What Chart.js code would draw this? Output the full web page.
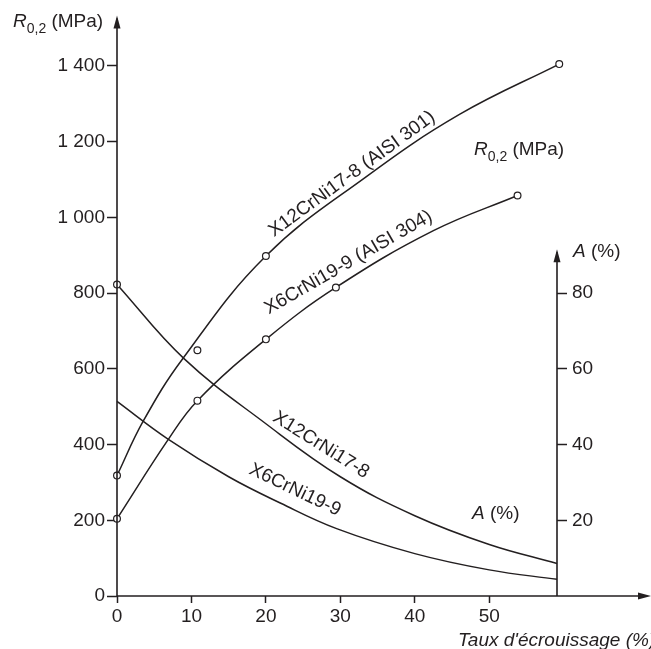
<!DOCTYPE html>
<html>
<head>
<meta charset="utf-8">
<script src="https://cdn.jsdelivr.net/npm/chart.js@4.4.1/dist/chart.umd.min.js"></script>
<style>
  html, body { margin: 0; padding: 0; background: #fff; }
</style>
</head>
<body>
<canvas id="myChart" width="651" height="649"></canvas>
<script>
// tick values and labels
const xTicks = [0, 10, 20, 30, 40, 50];
const xTickLabels = ["0", "10", "20", "30", "40", "50"];
const rTicks = [0, 200, 400, 600, 800, 1000, 1200, 1400];
const rTickLabels = ["0", "200", "400", "600", "800", "1 000", "1 200", "1 400"];
const aTicks = [20, 40, 60, 80];
const aTickLabels = ["20", "40", "60", "80"];

// measured points (circles)
const r301X = [0, 10.8, 20, 59.4];
const r301Y = [318, 649, 898, 1405];
const r304X = [0, 10.8, 20, 29.4, 53.8];
const r304Y = [204, 516, 678, 815, 1058];
const a301X = [0];
const a301Y = [82.3];

// curves
const r301CurveX = [0, 3.5, 8.8, 20, 33.5, 46, 59.4];
const r301CurveY = [318, 461, 626, 898, 1108, 1272, 1405];
const r304CurveX = [0, 6.8, 10.8, 20, 29.4, 42.5, 53.8];
const r304CurveY = [204, 411, 516, 678, 815, 965, 1058];
const a301CurveX = [0, 9, 20, 30, 40, 50, 59.1];
const a301CurveY = [82.3, 62.7, 45.5, 31.5, 21.2, 13.6, 8.6];
const a304CurveX = [0, 6.8, 15, 22, 29.5, 40, 50, 59.1];
const a304CurveY = [51.4, 41.5, 31.5, 24.5, 17.8, 11.2, 6.9, 4.4];

const ink = "#231f20";
const fontFamily = "'Liberation Sans', Arial, sans-serif";

const zip = (xs, ys) => xs.map((x, i) => ({ x: x, y: ys[i] }));

const markerSet = (xs, ys, axis) => ({
  data: zip(xs, ys),
  yAxisID: axis,
  showLine: false,
  pointRadius: 3.4,
  pointBorderWidth: 1.2,
  pointBorderColor: ink,
  pointBackgroundColor: "#fff",
  clip: false,
});

const curveSet = (xs, ys, axis) => ({
  data: zip(xs, ys),
  yAxisID: axis,
  showLine: true,
  borderColor: ink,
  borderWidth: 1.5,
  pointRadius: 0,
  tension: 0.4,
  clip: false,
});

// axis lines with arrows + annotations
const decorations = {
  id: "decorations",
  afterDraw(chart) {
    const { ctx, chartArea, scales } = chart;
    const left = scales.x.getPixelForValue(0);
    const right = scales.x.getPixelForValue(59.1);
    const bottom = scales.y.getPixelForValue(0);
    const aTop = scales.y1.getPixelForValue(91.3);
    ctx.save();
    ctx.strokeStyle = ink;
    ctx.fillStyle = ink;
    ctx.lineWidth = 1.6;

    const arrowUp = (x, y) => {
      ctx.beginPath();
      ctx.moveTo(x, y);
      ctx.lineTo(x - 3.5, y + 13);
      ctx.lineTo(x + 3.5, y + 13);
      ctx.closePath();
      ctx.fill();
    };

    ctx.beginPath();
    ctx.moveTo(left, bottom);
    ctx.lineTo(left, chartArea.top + 2);
    ctx.moveTo(right, bottom);
    ctx.lineTo(right, aTop + 2);
    ctx.moveTo(left, bottom);
    ctx.lineTo(chart.width - 4, bottom);
    ctx.stroke();
    arrowUp(left, chartArea.top - 1);
    arrowUp(right, aTop - 1);
    ctx.beginPath();
    ctx.moveTo(chart.width, bottom);
    ctx.lineTo(chart.width - 13, bottom - 3.5);
    ctx.lineTo(chart.width - 13, bottom + 3.5);
    ctx.closePath();
    ctx.fill();

    const font = (size, italic) => (italic ? "italic " : "") + size + "px " + fontFamily;
    const rich = (parts, x, y) => {
      ctx.textAlign = "left";
      ctx.textBaseline = "alphabetic";
      parts.forEach((p) => {
        ctx.font = font(p.size || 19, p.italic);
        ctx.fillText(p.t, x, y + (p.dy || 0));
        x += ctx.measureText(p.t).width;
      });
    };
    const rLabel = [{ t: "R", italic: true }, { t: "0,2", size: 14, dy: 6 }, { t: " (MPa)" }];
    const aLabel = [{ t: "A", italic: true }, { t: " (%)" }];
    rich(rLabel, 13, 26.5);
    rich(rLabel, 474, 155);
    rich(aLabel, 472, 518.5);
    rich(aLabel, 573, 257);
    rich([{ t: "Taux d'écrouissage (%)", italic: true }], 458, 646);

    const rotated = (text, x, y, deg) => {
      ctx.save();
      ctx.translate(x, y);
      ctx.rotate((deg * Math.PI) / 180);
      ctx.font = font(19, false);
      ctx.textAlign = "center";
      ctx.textBaseline = "middle";
      ctx.fillText(text, 0, 0);
      ctx.restore();
    };
    rotated("X12CrNi17-8 (AISI 301)", 352, 174, -36);
    rotated("X6CrNi19-9 (AISI 304)", 348.5, 262.5, -30);
    rotated("X12CrNi17-8", 321, 445, 32);
    rotated("X6CrNi19-9", 295, 490, 25.6);
    ctx.restore();
  },
};

const tickGrid = (len) => ({
  drawOnChartArea: false,
  drawTicks: true,
  tickLength: len,
  tickWidth: 1.5,
  color: ink,
});

const config = {
  type: "scatter",
  data: {
    datasets: [
      markerSet(r301X, r301Y, "y"),
      markerSet(r304X, r304Y, "y"),
      markerSet(a301X, a301Y, "y1"),
      curveSet(r301CurveX, r301CurveY, "y"),
      curveSet(r304CurveX, r304CurveY, "y"),
      curveSet(a301CurveX, a301CurveY, "y1"),
      curveSet(a304CurveX, a304CurveY, "y1"),
    ],
  },
  options: {
    responsive: false,
    animation: false,
    layout: { padding: { top: 12, left: 0, right: 0, bottom: 0 } },
    plugins: {
      legend: { display: false },
      tooltip: { enabled: false },
    },
    scales: {
      x: {
        type: "linear",
        min: 0,
        max: 59.1,
        afterBuildTicks: (s) => { s.ticks = xTicks.map((v) => ({ value: v })); },
        afterFit: (s) => { s.height = 53; },
        ticks: {
          callback: (v, i) => xTickLabels[i],
          color: ink,
          font: { family: fontFamily, size: 19 },
          padding: 2,
          maxRotation: 0,
          autoSkip: false,
        },
        grid: tickGrid(7),
        border: { display: false },
      },
      y: {
        position: "left",
        min: 0,
        max: 1531,
        afterBuildTicks: (s) => { s.ticks = rTicks.map((v) => ({ value: v })); },
        afterFit: (s) => { s.width = 117; },
        ticks: {
          callback: (v, i) => rTickLabels[i],
          color: ink,
          font: { family: fontFamily, size: 19 },
          padding: 2,
          autoSkip: false,
        },
        grid: tickGrid(10),
        border: { display: false },
      },
      y1: {
        position: "right",
        min: 0,
        max: 153.1,
        afterBuildTicks: (s) => { s.ticks = aTicks.map((v) => ({ value: v })); },
        afterFit: (s) => { s.width = 94; },
        ticks: {
          callback: (v, i) => aTickLabels[i],
          color: ink,
          font: { family: fontFamily, size: 19 },
          padding: 5,
          autoSkip: false,
        },
        grid: tickGrid(10),
        border: { display: false },
      },
    },
  },
  plugins: [decorations],
};

new Chart(document.getElementById("myChart").getContext("2d"), config);
</script>
</body>
</html>
